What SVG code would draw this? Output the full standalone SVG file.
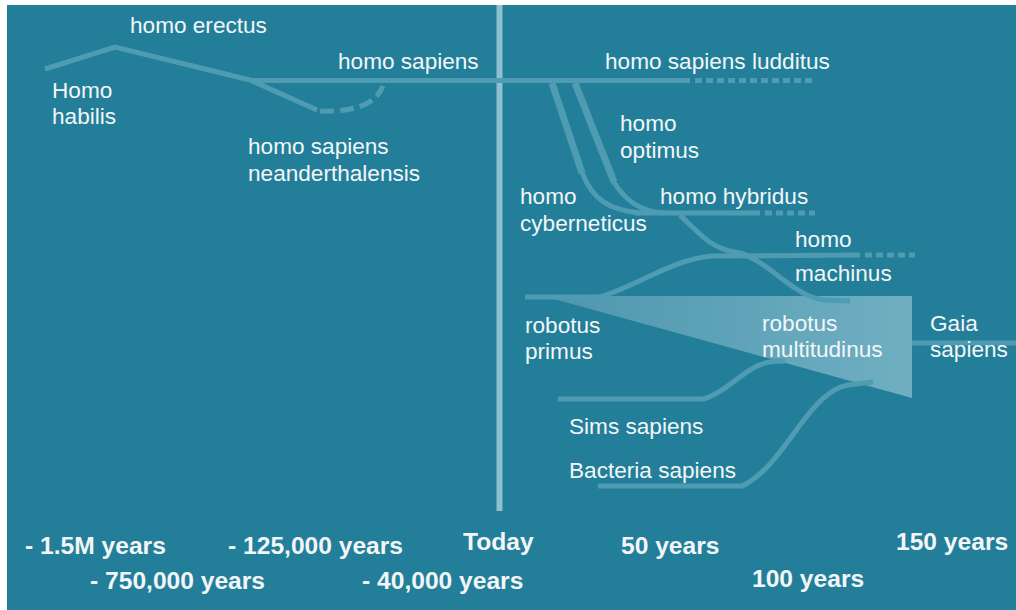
<svg xmlns="http://www.w3.org/2000/svg" width="1016" height="610" viewBox="0 0 1016 610">
<style>
.lbl{font-family:"Liberation Sans",Arial,sans-serif;font-size:22.6px;fill:#f2f6f8}
.time{font-family:"Liberation Sans",Arial,sans-serif;font-size:24.6px;font-weight:bold;fill:#f2f6f8}
.ln{fill:none;stroke:#4f9cb2;stroke-width:5}
.thick{stroke-width:7}
.dot{stroke-dasharray:7 4}
</style>
<defs>
<linearGradient id="tri" x1="543" y1="0" x2="912" y2="0" gradientUnits="userSpaceOnUse">
<stop offset="0" stop-color="#4e96ad"/>
<stop offset="1" stop-color="#70afc2"/>
</linearGradient>
</defs>
<rect x="0" y="0" width="1016" height="610" fill="#ffffff"/>
<rect x="7" y="5" width="1009" height="605" fill="#237f99"/>
<g id="connectors">
<line x1="499.5" y1="5" x2="499.5" y2="511" stroke="#8ec0cf" stroke-width="6"/>
<polygon id="robotus-multitudinus-shape" points="543,296 912,296 912,398" fill="url(#tri)"/>
<polyline class="ln" points="45,69 115,47 250,80"/>
<path class="ln" d="M250,80.5 H690"/>
<path class="ln dot" d="M695,80.5 H815"/>
<path class="ln" d="M250,80 L317,110"/>
<path class="ln" d="M320,111 Q372,113 383,86" stroke-dasharray="14 6" stroke-width="6"/>
<path class="ln thick" d="M552,83 L582,173"/>
<path class="ln" d="M582,172 C592,200 610,210 640,213"/>
<path class="ln thick" d="M575,83 L614,182"/>
<path class="ln" d="M613,181 C625,200 640,212 665,213"/>
<path class="ln" d="M635,213 H760"/>
<path class="ln dot" d="M765,213 H815"/>
<path class="ln" d="M680,215 C705,240 715,250 740,253 C770,262 795,298 825,300 L850,301"/>
<path class="ln" d="M600,297 C640,285 670,260 712,256 L860,255"/>
<path class="ln dot" d="M865,255 H915"/>
<path class="ln" d="M525,297 H600" stroke-width="6"/>
<path class="ln" d="M912,343 H1016" stroke-width="6"/>
<path class="ln" d="M558,399 H703 C720,395 738,377 750,370 C760,363 770,361 785,361"/>
<path class="ln" d="M598,486 H742 C760,478 775,460 800,425 C815,405 830,388 848,385 L873,382"/>
</g>
<g id="homo-habilis"><text class="lbl" x="52" y="98">Homo</text><text class="lbl" x="52" y="124">habilis</text></g>
<g id="homo-erectus"><text class="lbl" x="130" y="33">homo erectus</text></g>
<g id="homo-sapiens"><text class="lbl" x="338" y="69">homo sapiens</text></g>
<g id="homo-sapiens-neanderthalensis"><text class="lbl" x="248" y="154">homo sapiens</text><text class="lbl" x="248" y="181">neanderthalensis</text></g>
<g id="homo-sapiens-ludditus"><text class="lbl" x="605" y="69">homo sapiens ludditus</text></g>
<g id="homo-optimus"><text class="lbl" x="620" y="131">homo</text><text class="lbl" x="620" y="158">optimus</text></g>
<g id="homo-cyberneticus"><text class="lbl" x="520" y="204">homo</text><text class="lbl" x="520" y="231">cyberneticus</text></g>
<g id="homo-hybridus"><text class="lbl" x="660" y="204">homo hybridus</text></g>
<g id="homo-machinus"><text class="lbl" x="795" y="247">homo</text><text class="lbl" x="795" y="281">machinus</text></g>
<g id="robotus-primus"><text class="lbl" x="525" y="333">robotus</text><text class="lbl" x="525" y="359">primus</text></g>
<g id="robotus-multitudinus"><text class="lbl" x="762" y="331">robotus</text><text class="lbl" x="762" y="357">multitudinus</text></g>
<g id="gaia-sapiens"><text class="lbl" x="930" y="331">Gaia</text><text class="lbl" x="930" y="357">sapiens</text></g>
<g id="sims-sapiens"><text class="lbl" x="569" y="434">Sims sapiens</text></g>
<g id="bacteria-sapiens"><text class="lbl" x="569" y="478">Bacteria sapiens</text></g>
<g id="timeline">
<text class="time" x="25" y="554">- 1.5M years</text>
<text class="time" x="228" y="554">- 125,000 years</text>
<text class="time" x="463" y="550">Today</text>
<text class="time" x="621" y="554">50 years</text>
<text class="time" x="896" y="550">150 years</text>
<text class="time" x="90" y="589">- 750,000 years</text>
<text class="time" x="362" y="589">- 40,000 years</text>
<text class="time" x="752" y="587">100 years</text>
</g>
</svg>
